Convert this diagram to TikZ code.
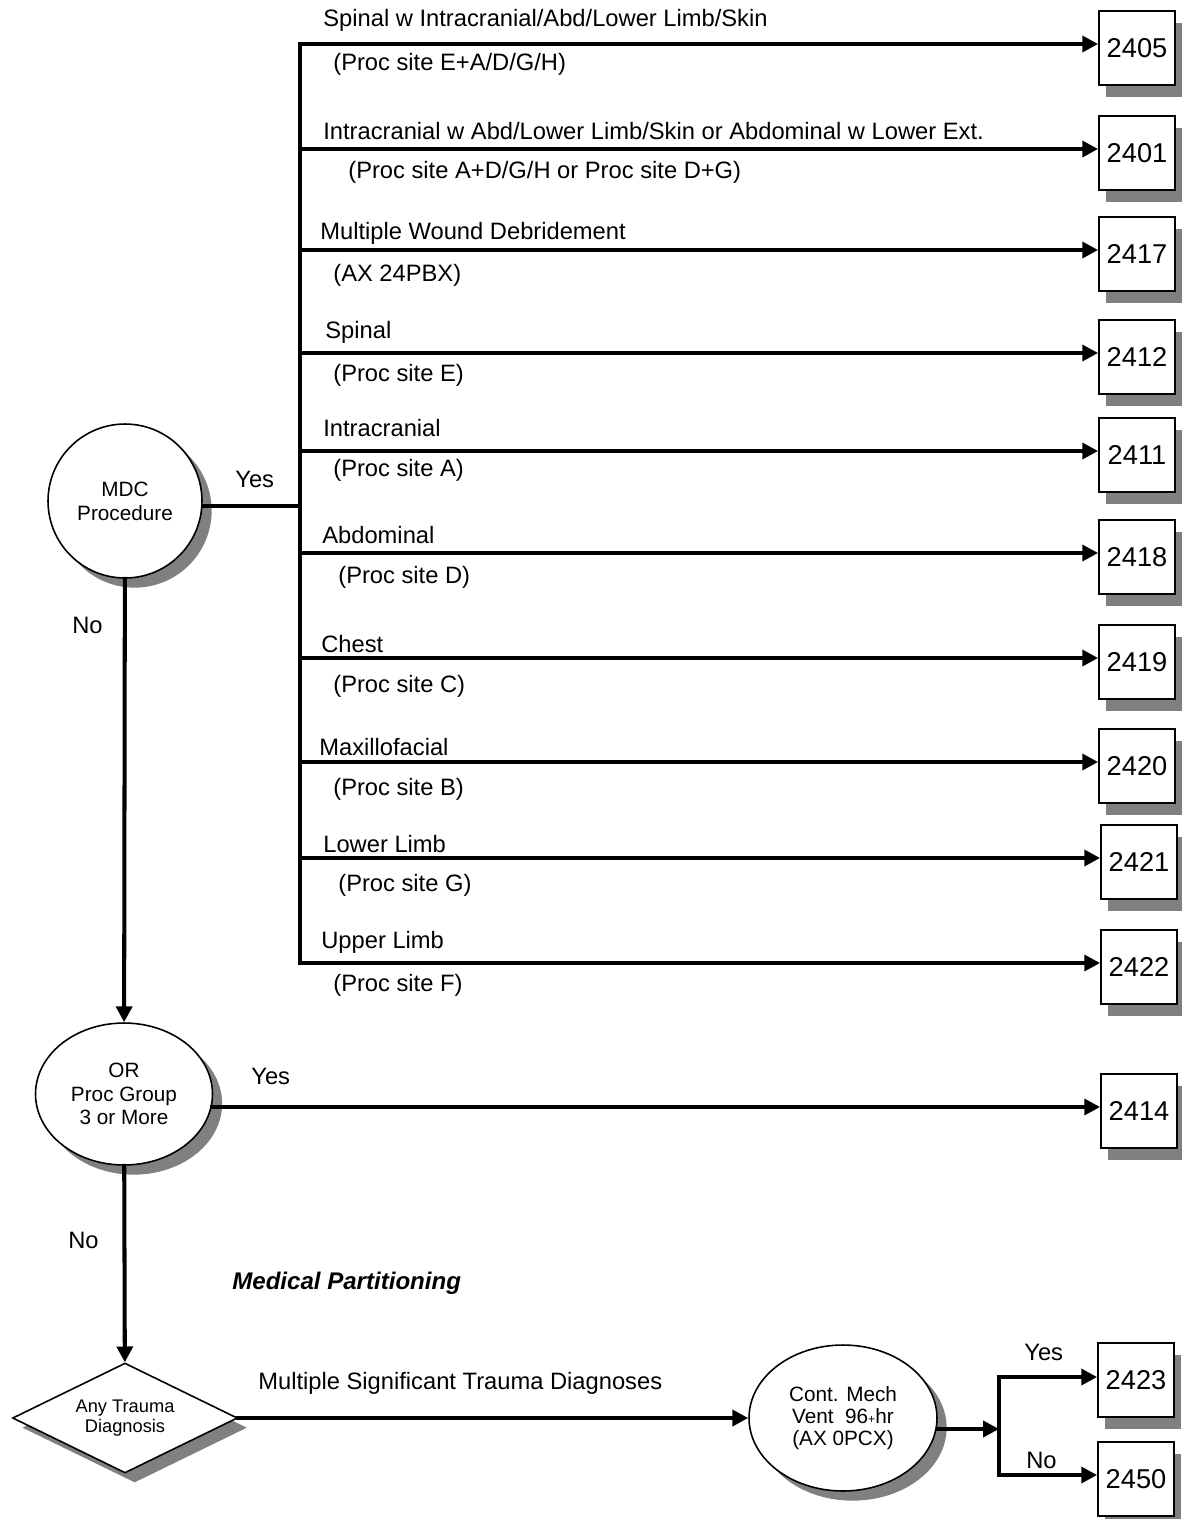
\documentclass[tikz,border=0pt]{standalone}
\usepackage{fontspec}
\setmainfont{Liberation Sans}
\usetikzlibrary{arrows.meta,shapes.geometric,shadows}

\begin{document}
\begin{tikzpicture}[x=0.02cm,y=-0.02cm,>={Triangle[length=9pt,width=9pt]},
  choice/.style={draw,fill=white,line width=0.9pt,align=center,inner sep=1pt,
    font=\fontsize{11.8}{13.5}\selectfont,
    drop shadow={shadow xshift=5.5pt,shadow yshift=-5.5pt,fill=gray,opacity=1}},
  result/.style={draw,fill=white,line width=1pt,minimum width=1.52cm,minimum height=1.48cm,
    font=\fontsize{15.5}{18}\selectfont,
    drop shadow={shadow xshift=4pt,shadow yshift=-7pt,fill=gray,opacity=1}},
  txt/.style={anchor=west,inner sep=0pt,font=\fontsize{13.5}{16}\selectfont},
  flow/.style={line width=2.3pt,line cap=rect,line join=miter}]
  \useasboundingbox (0,0) rectangle (1182,1519);

  % decisions
  \node[choice,circle,minimum size=3.08cm] (mdc) at (125,501) {MDC\\Procedure};
  \node[choice,ellipse,minimum width=3.54cm,minimum height=2.84cm] (orproc) at (124,1094) {OR\\Proc Group\\3 or More};
  \node[choice,diamond,aspect=2,minimum width=4.5cm,minimum height=2.2cm,
    font=\fontsize{10.4}{11.5}\selectfont] (trauma) at (125,1418) {Any Trauma\\Diagnosis};
  \node[choice,ellipse,minimum width=3.76cm,minimum height=2.92cm,
    font=\fontsize{11.8}{12.6}\selectfont] (vent) at (843,1418) {Cont. Mech\\Vent\ \ 96{\scriptsize+}hr\\(AX 0PCX)};

  % DRG boxes
  \node[result] (b2405) at (1137,48) {2405};
  \node[result] (b2401) at (1137,153) {2401};
  \node[result] (b2417) at (1137,254) {2417};
  \node[result] (b2412) at (1137,357) {2412};
  \node[result] (b2411) at (1137,455) {2411};
  \node[result] (b2418) at (1137,557) {2418};
  \node[result] (b2419) at (1137,662) {2419};
  \node[result] (b2420) at (1137,766) {2420};
  \node[result] (b2421) at (1139,862) {2421};
  \node[result] (b2422) at (1139,967) {2422};
  \node[result] (b2414) at (1139,1111) {2414};
  \node[result] (b2423) at (1136,1380) {2423};
  \node[result] (b2450) at (1136,1479) {2450};

  % branch points
  \coordinate (jyes) at (300,506);
  \coordinate (j2405) at (300,44);
  \coordinate (j2401) at (300,149);
  \coordinate (j2417) at (300,250);
  \coordinate (j2412) at (300,353);
  \coordinate (j2411) at (300,451);
  \coordinate (j2418) at (300,553);
  \coordinate (j2419) at (300,658);
  \coordinate (j2420) at (300,762);
  \coordinate (j2421) at (300,858);
  \coordinate (j2422) at (300,963);
  \coordinate (j2414) at (212,1107);
  \coordinate (split) at (999,1429);
  \coordinate (syes) at (999,1377);
  \coordinate (sno) at (999,1475);

  % procedure site labels
  \node[txt] (t2405) at (323,20) {Spinal w Intracranial/Abd/Lower Limb/Skin};
  \node[txt] (p2405) at (333,64) {(Proc site E+A/D/G/H)};
  \node[txt] (t2401) at (323,131) {Intracranial w Abd/Lower Limb/Skin or Abdominal w Lower Ext.};
  \node[txt] (p2401) at (348,172) {(Proc site A+D/G/H or Proc site D+G)};
  \node[txt] (t2417) at (320,233) {Multiple Wound Debridement};
  \node[txt] (p2417) at (333,275) {(AX 24PBX)};
  \node[txt] (t2412) at (325,332) {Spinal};
  \node[txt] (p2412) at (333,375) {(Proc site E)};
  \node[txt] (t2411) at (323,428) {Intracranial};
  \node[txt] (p2411) at (333,470) {(Proc site A)};
  \node[txt] (t2418) at (322,535) {Abdominal};
  \node[txt] (p2418) at (338,577) {(Proc site D)};
  \node[txt] (t2419) at (321,644) {Chest};
  \node[txt] (p2419) at (333,686) {(Proc site C)};
  \node[txt] (t2420) at (319,747) {Maxillofacial};
  \node[txt] (p2420) at (333,789) {(Proc site B)};
  \node[txt] (t2421) at (323,844) {Lower Limb};
  \node[txt] (p2421) at (338,885) {(Proc site G)};
  \node[txt] (t2422) at (321,942) {Upper Limb};
  \node[txt] (p2422) at (333,985) {(Proc site F)};

  % answers
  \node[txt] (yes1) at (235,479) {Yes};
  \node[txt] (no1) at (72,625) {No};
  \node[txt] (yes2) at (251,1076) {Yes};
  \node[txt] (no2) at (68,1240) {No};
  \node[txt,font=\fontsize{13.7}{16}\selectfont\bfseries\itshape] (medpart) at (232,1283) {Medical Partitioning};
  \node[txt] (multi) at (258,1383) {Multiple Significant Trauma Diagnoses};
  \node[txt] (yes3) at (1024,1352) {Yes};
  \node[txt] (no3) at (1026,1460) {No};

  % connectors
  \draw[flow] (mdc.east |- jyes) -- (jyes);
  \draw[flow] (j2405) -- (j2422);
  \draw[flow,->] (j2405) -- (j2405 -| b2405.west);
  \draw[flow,->] (j2401) -- (j2401 -| b2401.west);
  \draw[flow,->] (j2417) -- (j2417 -| b2417.west);
  \draw[flow,->] (j2412) -- (j2412 -| b2412.west);
  \draw[flow,->] (j2411) -- (j2411 -| b2411.west);
  \draw[flow,->] (j2418) -- (j2418 -| b2418.west);
  \draw[flow,->] (j2419) -- (j2419 -| b2419.west);
  \draw[flow,->] (j2420) -- (j2420 -| b2420.west);
  \draw[flow,->] (j2421) -- (j2421 -| b2421.west);
  \draw[flow,->] (j2422) -- (j2422 -| b2422.west);
  \draw[flow,->] (mdc) -- (orproc);
  \draw[flow,->] (j2414) -- (j2414 -| b2414.west);
  \draw[flow,->] (orproc) -- (trauma);
  \draw[flow,->] (trauma) -- (vent);
  \draw[flow,->] (vent.east |- split) -- (split);
  \draw[flow] (syes) -- (sno);
  \draw[flow,->] (syes) -- (syes -| b2423.west);
  \draw[flow,->] (sno) -- (sno -| b2450.west);
\end{tikzpicture}
\end{document}
